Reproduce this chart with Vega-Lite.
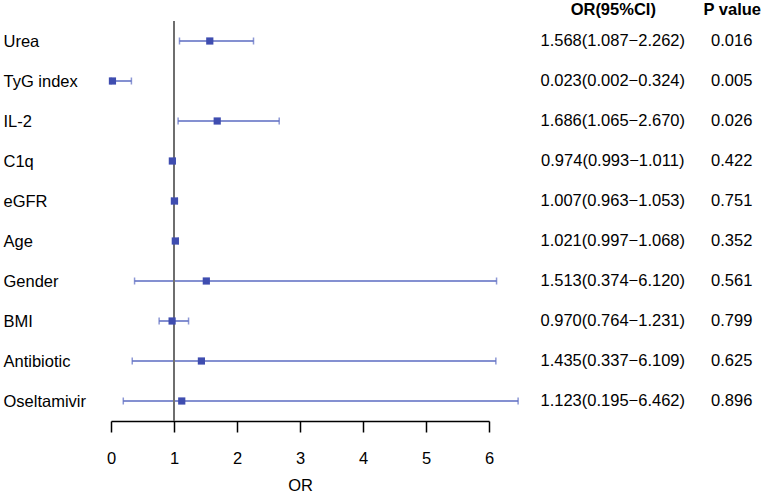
{
  "$schema": "https://vega.github.io/schema/vega-lite/v6.json",
  "padding": {"left": 3, "top": 1, "right": 0, "bottom": 0},
  "background": "white",
  "config": {"view": {"stroke": null}, "font": "Liberation Sans"},
  "data": {"values": [
    {"var": "Urea", "or": 1.568, "lo": 1.087, "hi": 2.262, "ci": "1.568(1.087−2.262)", "p": "0.016"},
    {"var": "TyG index", "or": 0.023, "lo": 0.002, "hi": 0.324, "ci": "0.023(0.002−0.324)", "p": "0.005"},
    {"var": "IL-2", "or": 1.686, "lo": 1.065, "hi": 2.670, "ci": "1.686(1.065−2.670)", "p": "0.026"},
    {"var": "C1q", "or": 0.974, "lo": 0.993, "hi": 1.011, "ci": "0.974(0.993−1.011)", "p": "0.422"},
    {"var": "eGFR", "or": 1.007, "lo": 0.963, "hi": 1.053, "ci": "1.007(0.963−1.053)", "p": "0.751"},
    {"var": "Age", "or": 1.021, "lo": 0.997, "hi": 1.068, "ci": "1.021(0.997−1.068)", "p": "0.352"},
    {"var": "Gender", "or": 1.513, "lo": 0.374, "hi": 6.120, "ci": "1.513(0.374−6.120)", "p": "0.561"},
    {"var": "BMI", "or": 0.970, "lo": 0.764, "hi": 1.231, "ci": "0.970(0.764−1.231)", "p": "0.799"},
    {"var": "Antibiotic", "or": 1.435, "lo": 0.337, "hi": 6.109, "ci": "1.435(0.337−6.109)", "p": "0.625"},
    {"var": "Oseltamivir", "or": 1.123, "lo": 0.195, "hi": 6.462, "ci": "1.123(0.195−6.462)", "p": "0.896"}
  ]},
  "bounds": "flush",
  "spacing": 94,
  "hconcat": [
    {
      "width": 378,
      "height": 400,
      "layer": [
        {
          "mark": {"type": "rule", "color": "#5b6bc2", "strokeWidth": 1.5, "clip": false},
          "encoding": {
            "y": {"field": "var", "type": "nominal", "sort": null, "scale": {"type": "point", "padding": 0.5},
                  "axis": {"title": null, "ticks": false, "domain": false, "labelAlign": "left", "labelPadding": 108, "labelFontSize": 16.5, "labelColor": "black", "labelFont": "Liberation Sans", "labelBaseline": "middle"}},
            "x": {"field": "lo", "type": "quantitative", "scale": {"domain": [0, 6], "nice": false, "zero": true},
                  "axis": {"values": [0, 1, 2, 3, 4, 5, 6], "format": "d", "title": "OR", "grid": false, "tickSize": 11, "tickWidth": 1.5, "domainWidth": 1.5, "domainColor": "black", "tickColor": "black", "labelFontSize": 16.5, "labelColor": "black", "labelPadding": 18, "labelFlush": false, "labelFont": "Liberation Sans", "titleFont": "Liberation Sans", "titleFontSize": 16.5, "titleFontWeight": "normal", "titleColor": "black", "titlePadding": 11}},
            "x2": {"field": "hi"}
          }
        },
        {
          "mark": {"type": "tick", "color": "#5b6bc2", "thickness": 1.5, "size": 7, "clip": false},
          "encoding": {
            "y": {"field": "var", "type": "nominal", "sort": null},
            "x": {"field": "lo", "type": "quantitative"}
          }
        },
        {
          "mark": {"type": "tick", "color": "#5b6bc2", "thickness": 1.5, "size": 7, "clip": false},
          "encoding": {
            "y": {"field": "var", "type": "nominal", "sort": null},
            "x": {"field": "hi", "type": "quantitative"}
          }
        },
        {
          "mark": {"type": "rule", "color": "#6e6e6e", "strokeWidth": 2},
          "encoding": {"x": {"datum": 1, "type": "quantitative"}}
        },
        {
          "mark": {"type": "point", "shape": "square", "filled": true, "size": 52, "color": "#3f4db0", "opacity": 1, "clip": false},
          "encoding": {
            "y": {"field": "var", "type": "nominal", "sort": null},
            "x": {"field": "or", "type": "quantitative"}
          }
        }
      ]
    },
    {
      "width": 178.5,
      "height": 400,
      "transform": [{"fold": ["ci", "p"], "as": ["key", "txt"]}],
      "mark": {"type": "text", "fontSize": 16.5, "font": "Liberation Sans", "color": "black"},
      "encoding": {
        "x": {"field": "key", "type": "nominal", "sort": ["ci", "p"], "scale": {"type": "point", "padding": 0.25},
              "axis": {"orient": "top", "title": null, "labelExpr": "datum.value == 'ci' ? 'OR(95%CI)' : 'P value'", "labelFontWeight": "bold", "labelFontSize": 16.5, "labelAngle": 0, "ticks": false, "domain": false, "labelPadding": 4, "labelColor": "black", "labelFont": "Liberation Sans"}},
        "y": {"field": "var", "type": "nominal", "sort": null, "scale": {"type": "point", "padding": 0.5}, "axis": null},
        "text": {"field": "txt"}
      }
    }
  ]
}
